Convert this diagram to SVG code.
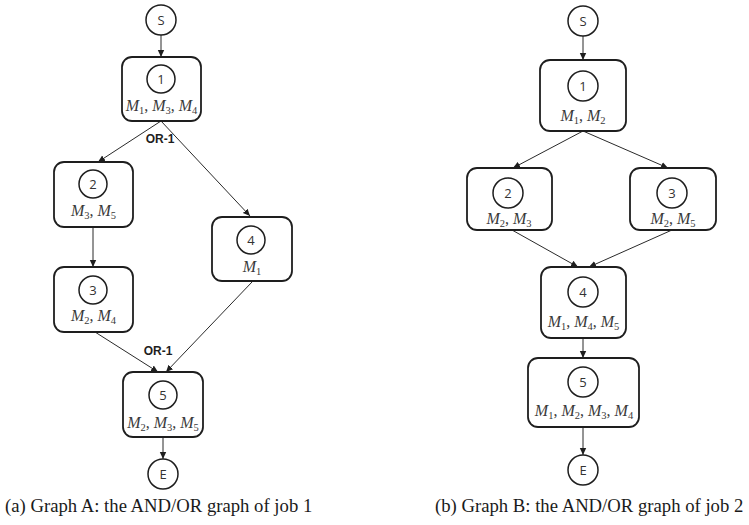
<svg xmlns="http://www.w3.org/2000/svg" width="749" height="525" viewBox="0 0 749 525">
  <style>
    .box { fill: #fff; stroke: #1e1e1e; stroke-width: 1.8; }
    .ring { fill: #fff; stroke: #1e1e1e; stroke-width: 1.5; }
    .num { font-family: "Open Sans", "Liberation Sans", sans-serif; font-size: 13px; fill: #333; text-anchor: middle; }
    .m { font-family: "Liberation Serif", serif; font-size: 16px; fill: #3a3a3a; text-anchor: middle; }
    .m .i { font-style: italic; }
    .m .s { font-size: 10.5px; }
    .or { font-family: "Liberation Sans", sans-serif; font-size: 12px; font-weight: bold; fill: #1e1e1e; text-anchor: middle; }
    .edge { stroke: #2a2a2a; stroke-width: 1; fill: none; marker-end: url(#arrow); }
    .cap { font-family: "Liberation Serif", serif; font-size: 18.7px; fill: #1a1a1a; }
  </style>
  <defs>
    <marker id="arrow" markerUnits="userSpaceOnUse" markerWidth="8" markerHeight="8" refX="7" refY="4" orient="auto">
      <path d="M0,0.8 L7,4 L0,7.2 Z" fill="#1e1e1e"/>
    </marker>
  </defs>
  <rect width="749" height="525" fill="#fff"/>

  <!-- connectors -->
  <g id="connectors">
    <!-- graph A -->
    <line class="edge" x1="161" y1="35" x2="161" y2="57"/>
    <line class="edge" x1="161" y1="121" x2="98" y2="162"/>
    <line class="edge" x1="161" y1="121" x2="250" y2="216"/>
    <line class="edge" x1="93" y1="227" x2="93" y2="267"/>
    <line class="edge" x1="95" y1="332" x2="158" y2="372"/>
    <line class="edge" x1="252" y1="282" x2="166" y2="372"/>
    <line class="edge" x1="163" y1="437" x2="163" y2="459"/>
    <text class="or" x="160" y="143">OR-1</text>
    <text class="or" x="158" y="355">OR-1</text>
    <!-- graph B -->
    <line class="edge" x1="583" y1="36" x2="583" y2="60"/>
    <line class="edge" x1="583" y1="131" x2="513" y2="168"/>
    <line class="edge" x1="583" y1="131" x2="668" y2="168"/>
    <line class="edge" x1="512" y1="230" x2="578" y2="267"/>
    <line class="edge" x1="672" y1="230" x2="589" y2="267"/>
    <line class="edge" x1="583" y1="338" x2="583" y2="358"/>
    <line class="edge" x1="583" y1="427" x2="583" y2="455"/>
  </g>

  <!-- graph A nodes -->
  <g id="a-start">
    <circle class="ring" cx="161" cy="20" r="15"/>
    <text class="num" x="161" y="24.5">S</text>
  </g>
  <g id="a-op1">
    <rect class="box" x="122" y="57" width="79" height="64" rx="10"/>
    <circle class="ring" cx="161" cy="79" r="14"/>
    <text class="num" x="161" y="83.5">1</text>
    <text class="m" x="161.5" y="111"><tspan class="i">M</tspan><tspan class="s" dy="3">1</tspan><tspan dy="-3">, </tspan><tspan class="i">M</tspan><tspan class="s" dy="3">3</tspan><tspan dy="-3">, </tspan><tspan class="i">M</tspan><tspan class="s" dy="3">4</tspan></text>
  </g>
  <g id="a-op2">
    <rect class="box" x="54" y="162" width="79" height="65" rx="10"/>
    <circle class="ring" cx="93" cy="184" r="14"/>
    <text class="num" x="93" y="188.5">2</text>
    <text class="m" x="93.5" y="216"><tspan class="i">M</tspan><tspan class="s" dy="3">3</tspan><tspan dy="-3">, </tspan><tspan class="i">M</tspan><tspan class="s" dy="3">5</tspan></text>
  </g>
  <g id="a-op3">
    <rect class="box" x="54" y="267" width="79" height="65" rx="10"/>
    <circle class="ring" cx="93" cy="290" r="14"/>
    <text class="num" x="93" y="294.5">3</text>
    <text class="m" x="93.5" y="321"><tspan class="i">M</tspan><tspan class="s" dy="3">2</tspan><tspan dy="-3">, </tspan><tspan class="i">M</tspan><tspan class="s" dy="3">4</tspan></text>
  </g>
  <g id="a-op4">
    <rect class="box" x="212" y="217" width="80" height="64" rx="10"/>
    <circle class="ring" cx="251" cy="240" r="14"/>
    <text class="num" x="251" y="244.5">4</text>
    <text class="m" x="252" y="272"><tspan class="i">M</tspan><tspan class="s" dy="3">1</tspan></text>
  </g>
  <g id="a-op5">
    <rect class="box" x="123" y="372" width="80" height="65" rx="10"/>
    <circle class="ring" cx="163" cy="395" r="14"/>
    <text class="num" x="163" y="399.5">5</text>
    <text class="m" x="163" y="428"><tspan class="i">M</tspan><tspan class="s" dy="3">2</tspan><tspan dy="-3">, </tspan><tspan class="i">M</tspan><tspan class="s" dy="3">3</tspan><tspan dy="-3">, </tspan><tspan class="i">M</tspan><tspan class="s" dy="3">5</tspan></text>
  </g>
  <g id="a-end">
    <circle class="ring" cx="163" cy="474" r="15"/>
    <text class="num" x="163" y="478.5">E</text>
  </g>

  <!-- graph B nodes -->
  <g id="b-start">
    <circle class="ring" cx="583" cy="21" r="15"/>
    <text class="num" x="583" y="25.5">S</text>
  </g>
  <g id="b-op1">
    <rect class="box" x="540" y="60" width="86" height="71" rx="10"/>
    <circle class="ring" cx="583" cy="86" r="15"/>
    <text class="num" x="583" y="90.5">1</text>
    <text class="m" x="583" y="121"><tspan class="i">M</tspan><tspan class="s" dy="3">1</tspan><tspan dy="-3">, </tspan><tspan class="i">M</tspan><tspan class="s" dy="3">2</tspan></text>
  </g>
  <g id="b-op2">
    <rect class="box" x="467" y="168" width="85" height="62" rx="10"/>
    <circle class="ring" cx="508" cy="193" r="15"/>
    <text class="num" x="508" y="197.5">2</text>
    <text class="m" x="509" y="224"><tspan class="i">M</tspan><tspan class="s" dy="3">2</tspan><tspan dy="-3">, </tspan><tspan class="i">M</tspan><tspan class="s" dy="3">3</tspan></text>
  </g>
  <g id="b-op3">
    <rect class="box" x="630" y="168" width="86" height="62" rx="10"/>
    <circle class="ring" cx="672" cy="193" r="15"/>
    <text class="num" x="672" y="197.5">3</text>
    <text class="m" x="673" y="224"><tspan class="i">M</tspan><tspan class="s" dy="3">2</tspan><tspan dy="-3">, </tspan><tspan class="i">M</tspan><tspan class="s" dy="3">5</tspan></text>
  </g>
  <g id="b-op4">
    <rect class="box" x="541" y="267" width="85" height="71" rx="10"/>
    <circle class="ring" cx="583" cy="292" r="15"/>
    <text class="num" x="583" y="296.5">4</text>
    <text class="m" x="583.5" y="327"><tspan class="i">M</tspan><tspan class="s" dy="3">1</tspan><tspan dy="-3">, </tspan><tspan class="i">M</tspan><tspan class="s" dy="3">4</tspan><tspan dy="-3">, </tspan><tspan class="i">M</tspan><tspan class="s" dy="3">5</tspan></text>
  </g>
  <g id="b-op5">
    <rect class="box" x="528" y="358" width="111" height="69" rx="10"/>
    <circle class="ring" cx="583" cy="382" r="15"/>
    <text class="num" x="583" y="386.5">5</text>
    <text class="m" x="584" y="416"><tspan class="i">M</tspan><tspan class="s" dy="3">1</tspan><tspan dy="-3">, </tspan><tspan class="i">M</tspan><tspan class="s" dy="3">2</tspan><tspan dy="-3">, </tspan><tspan class="i">M</tspan><tspan class="s" dy="3">3</tspan><tspan dy="-3">, </tspan><tspan class="i">M</tspan><tspan class="s" dy="3">4</tspan></text>
  </g>
  <g id="b-end">
    <circle class="ring" cx="583" cy="470" r="15"/>
    <text class="num" x="583" y="474.5">E</text>
  </g>

  <!-- captions -->
  <text class="cap" x="5" y="512">(a) Graph A: the AND/OR graph of job 1</text>
  <text class="cap" x="435" y="512">(b) Graph B: the AND/OR graph of job 2</text>
</svg>
